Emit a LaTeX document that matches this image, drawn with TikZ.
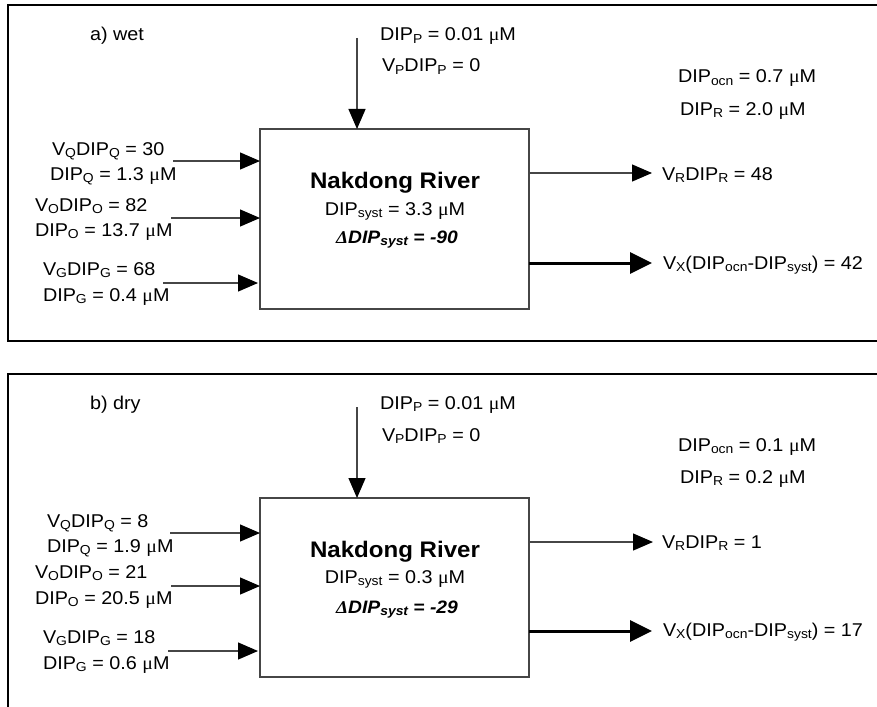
\documentclass[tikz,border=0pt]{standalone}
\usepackage{fontspec}
\setmainfont{Liberation Sans}[FakeStretch=1.07]
\newfontfamily\greekfont{Liberation Serif}[FakeStretch=1.07]
\usetikzlibrary{arrows.meta}
% lowered, smaller index text as in DIP_Q
\newcommand\lo[1]{\raisebox{-0.3ex}{\fontsize{13}{13}\selectfont #1}}
\newcommand\um{{\greekfont μ}M}
\definecolor{linegrey}{RGB}{70,70,70}
\begin{document}
\begin{tikzpicture}[x=1pt,y=-1pt,
  every node/.style={inner sep=0pt, outer sep=0pt},
  lbl/.style={anchor=base west, font=\fontsize{18.5}{20}\selectfont},
  ctr/.style={anchor=base, font=\fontsize{18.5}{20}\selectfont},
  title/.style={anchor=base, font=\fontsize{22.5}{24}\selectfont\bfseries},
  delta/.style={anchor=base, font=\fontsize{18}{20}\selectfont\bfseries\itshape},
  frame/.style={line width=2pt, black},
  riverbox/.style={draw=linegrey, line width=1.2pt, minimum width=269pt, minimum height=180pt},
  flow/.style={draw=linegrey, line width=1.2pt, -{Triangle[length=20pt,width=17pt,color=black]}},
  bigflow/.style={draw=black, line width=3pt, -{Triangle[length=22pt,width=21pt]}}]
\useasboundingbox (0,0) rectangle (877,706);
\clip (0,0) rectangle (877,706);

% panel frames (open to the right and, for the lower one, to the bottom)
\draw[frame] (880,5) -- (8,5) -- (8,341) -- (880,341);
\draw[frame] (880,374) -- (8,374) -- (8,710);

% ---------------- a) wet ----------------
\node[riverbox] (boxA) at (394.5,219) {};
\node[title] (nameA) at (395,188) {Nakdong River};
\node[ctr] (systA) at (395,215) {DIP\lo{syst} = 3.3 \um};
\node[delta] (dA) at (397,243) {{\greekfont Δ}DIP\lo{syst} = -90};

\node[lbl] (waA) at (90,41) {a) wet};
\node[lbl] (ppA) at (380,41) {DIP\lo{P} = 0.01 \um};
\node[lbl] (vpA) at (382,72) {V\lo{P}DIP\lo{P} = 0};
\node[lbl] (ocA) at (678,83) {DIP\lo{ocn} = 0.7 \um};
\node[lbl] (rrA) at (680,115) {DIP\lo{R} = 2.0 \um};
\node[lbl] (vrA) at (662,180) {V\lo{R}DIP\lo{R} = 48};
\node[lbl] (vxA) at (663,269) {V\lo{X}(DIP\lo{ocn}-DIP\lo{syst}) = 42};
\node[lbl] (vqA) at (52,155) {V\lo{Q}DIP\lo{Q} = 30};
\node[lbl] (dqA) at (50,180) {DIP\lo{Q} = 1.3 \um};
\node[lbl] (voA) at (35,211) {V\lo{O}DIP\lo{O} = 82};
\node[lbl] (doA) at (35,236) {DIP\lo{O} = 13.7 \um};
\node[lbl] (vgA) at (43,275) {V\lo{G}DIP\lo{G} = 68};
\node[lbl] (dgA) at (43,301) {DIP\lo{G} = 0.4 \um};

\coordinate (pA) at (357,38);
\coordinate (qA) at (173,161);
\coordinate (oA) at (171,218);
\coordinate (gA) at (163,283);
\coordinate (rA) at (652,173);
\coordinate (xA) at (652,263);
\draw[flow] (pA) -- (pA |- boxA.north);
\draw[flow] (qA) -- (qA -| boxA.west);
\draw[flow] (oA) -- (oA -| boxA.west);
\draw[flow] (gA) -- ([xshift=-2pt]gA -| boxA.west);
\draw[flow] (rA -| boxA.east) -- (rA);
\draw[bigflow] (xA -| boxA.east) -- (xA);

% ---------------- b) dry ----------------
\node[riverbox, minimum height=179pt] (boxB) at (394.5,587.5) {};
\node[title] (nameB) at (395,557) {Nakdong River};
\node[ctr] (systB) at (395,583) {DIP\lo{syst} = 0.3 \um};
\node[delta] (dB) at (397,613) {{\greekfont Δ}DIP\lo{syst} = -29};

\node[lbl] (wbB) at (90,409) {b) dry};
\node[lbl] (ppB) at (380,409) {DIP\lo{P} = 0.01 \um};
\node[lbl] (vpB) at (382,441) {V\lo{P}DIP\lo{P} = 0};
\node[lbl] (ocB) at (678,451) {DIP\lo{ocn} = 0.1 \um};
\node[lbl] (rrB) at (680,483) {DIP\lo{R} = 0.2 \um};
\node[lbl] (vrB) at (662,548) {V\lo{R}DIP\lo{R} = 1};
\node[lbl] (vxB) at (663,636) {V\lo{X}(DIP\lo{ocn}-DIP\lo{syst}) = 17};
\node[lbl] (vqB) at (47,527) {V\lo{Q}DIP\lo{Q} = 8};
\node[lbl] (dqB) at (47,552) {DIP\lo{Q} = 1.9 \um};
\node[lbl] (voB) at (35,578) {V\lo{O}DIP\lo{O} = 21};
\node[lbl] (doB) at (35,604) {DIP\lo{O} = 20.5 \um};
\node[lbl] (vgB) at (43,643) {V\lo{G}DIP\lo{G} = 18};
\node[lbl] (dgB) at (43,669) {DIP\lo{G} = 0.6 \um};

\coordinate (pB) at (357,407);
\coordinate (qB) at (170,533);
\coordinate (oB) at (171,586);
\coordinate (gB) at (168,651);
\coordinate (rB) at (653,542);
\coordinate (xB) at (652,631);
\draw[flow] (pB) -- (pB |- boxB.north);
\draw[flow] (qB) -- (qB -| boxB.west);
\draw[flow] (oB) -- (oB -| boxB.west);
\draw[flow] (gB) -- ([xshift=-2pt]gB -| boxB.west);
\draw[flow] (rB -| boxB.east) -- (rB);
\draw[bigflow] (xB -| boxB.east) -- (xB);
\end{tikzpicture}
\end{document}
